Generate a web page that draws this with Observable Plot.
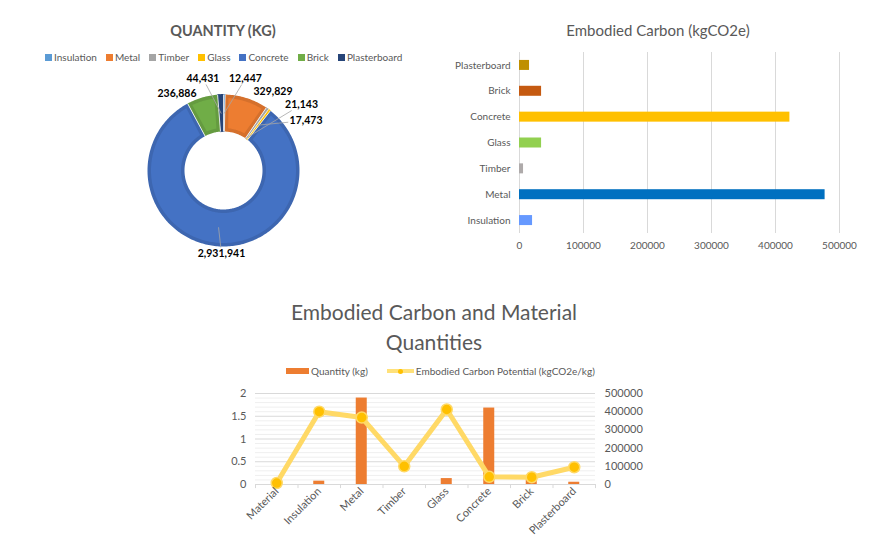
<!DOCTYPE html>
<html><head><meta charset="utf-8">
<script src="https://cdn.jsdelivr.net/npm/d3@7"></script>
<script src="https://cdn.jsdelivr.net/npm/@observablehq/plot@0.6"></script>
<style>
body{margin:0;background:#fff;font-family:Lato,"Liberation Sans",sans-serif;}
#page{position:relative;width:892px;height:552px;overflow:hidden;background:#fff;}
.abs{position:absolute;}
.title{color:#595959;text-align:center;white-space:nowrap;}
.legend{display:flex;align-items:center;font-size:10px;color:#595959;white-space:nowrap;line-height:12px;}
.item{display:flex;align-items:center;}
.sw{display:inline-block;width:7px;height:7px;margin-right:2px;}
</style></head><body><div id="page">
<div class="abs title" style="left:123px;top:22px;width:200px;font-size:14.5px;font-weight:bold;line-height:18px;">QUANTITY (KG)</div>
<div class="abs legend" id="leg1" style="left:45px;top:51px;"></div>
<div class="abs title" style="left:508px;top:21px;width:300px;font-size:15px;line-height:18px;">Embodied Carbon (kgCO2e)</div>
<div class="abs title" style="left:234px;top:297px;width:400px;font-size:21px;line-height:30px;">Embodied Carbon and Material<br>Quantities</div>
<div class="abs legend" id="leg3" style="left:286px;top:365px;"></div>
<div id="c1" class="abs" style="left:73px;top:70px;"></div>
<div id="c2" class="abs" style="left:440px;top:40px;"></div>
<div id="c3" class="abs" style="left:200px;top:385px;"></div>
</div>
<script>
// ---------- Data ----------
const materials = ["Insulation","Metal","Timber","Glass","Concrete","Brick","Plasterboard"];
const quantityKg = [12447, 329829, 21143, 17473, 2931941, 236886, 44431];
const pieColors = ["#5B9BD5","#ED7D31","#A5A5A5","#FFC000","#4472C4","#70AD47","#264478"];

const carbonCategories = ["Insulation","Metal","Timber","Glass","Concrete","Brick","Plasterboard"];
const embodiedCarbon = [20400, 477500, 6300, 34500, 422500, 34500, 15700];
const carbonColors = ["#6699FF","#0070C0","#AEAAAA","#92D050","#FFC000","#C55A11","#BF9000"];
const carbonTicks = [0, 100000, 200000, 300000, 400000, 500000];

const comboCategories = ["Material","Insulation","Metal","Timber","Glass","Concrete","Brick","Plasterboard"];
const quantityBars = [0, 0.073, 1.9, 0, 0.13, 1.68, 0.14, 0.05];
const carbonPotential = [8000, 400000, 368000, 100000, 412000, 42000, 40000, 95000];
const leftTicks = [0, 0.5, 1, 1.5, 2];
const rightTicks = [0, 100000, 200000, 300000, 400000, 500000];

// ---------- Layout (not data) ----------
// label placement in polar form: [angle deg clockwise from top, radius px, leader start radius or null]
const labelPolar = [[13.4,94.6,57],[32.1,93.2,null],[49.8,102.2,40],[58.8,96.5,57],[181.4,83,57],[-31.1,90,null],[-12.6,94.3,57]];
const FONT = "Lato, 'Liberation Sans', sans-serif";

// ---------- Legends ----------
const leg1 = document.getElementById("leg1");
materials.forEach((m,i)=>{
  const it = document.createElement("div"); it.className="item"; it.style.marginRight = "9px";
  it.innerHTML = `<span class="sw" style="background:${pieColors[i]}"></span>${m}`;
  leg1.appendChild(it);
});
const leg3 = document.getElementById("leg3");
leg3.innerHTML = `<div class="item" style="margin-right:19px"><span style="display:inline-block;width:23px;height:6px;background:#ED7D31;margin-right:2px"></span>Quantity (kg)</div>
<div class="item"><span style="position:relative;display:inline-block;width:27px;height:4px;background:#FFE17A;margin-right:2px"><span style="position:absolute;left:11px;top:-0.5px;width:5px;height:5px;border-radius:50%;background:#FFC000"></span></span>Embodied Carbon Potential (kgCO2e/kg)</div>`;

// ---------- Donut ----------
{
  const total = d3.sum(quantityKg);
  const R_OUT = 76, R_IN = 39, B = 3.5;
  let acc = 0;
  const slices = materials.map((name,i)=>{const a0 = acc/total*2*Math.PI; acc += quantityKg[i]; return {name,i,a0,a1:acc/total*2*Math.PI};});
  const pt = (a,r)=>({x:r*Math.sin(a), y:-r*Math.cos(a)});
  function ringPoly(a0,a1,r0,r1,inset){
    const pts=[]; const n=Math.max(2,Math.ceil((a1-a0)/0.02));
    const o0=a0+inset/r1, o1=a1-inset/r1, i0=a0+inset/r0, i1=a1-inset/r0;
    for(let k=0;k<=n;k++) pts.push(pt(o0+(o1-o0)*k/n, r1-inset));
    for(let k=n;k>=0;k--) pts.push(pt(i0+(i1-i0)*k/n, r0+inset));
    return pts;
  }
  const marks = [];
  slices.forEach(s=>{
    const col = pieColors[s.i];
    const big = (s.a1-s.a0)*57 > 10;
    if(big){
      marks.push(Plot.line(ringPoly(s.a0,s.a1,R_IN,R_OUT,0),{x:"x",y:"y",fill:d3.color(col).darker(0.3).formatHex(),stroke:"none"}));
      marks.push(Plot.line(ringPoly(s.a0,s.a1,R_IN,R_OUT,B),{x:"x",y:"y",fill:col,stroke:"none"}));
    } else {
      marks.push(Plot.line(ringPoly(s.a0,s.a1,R_IN,R_OUT,0),{x:"x",y:"y",fill:col,stroke:col,strokeWidth:1}));
    }
  });
  marks.push(Plot.link(slices,{x1:s=>pt(s.a0,R_IN).x,y1:s=>pt(s.a0,R_IN).y,x2:s=>pt(s.a0,R_OUT).x,y2:s=>pt(s.a0,R_OUT).y,stroke:"#ffffff",strokeWidth:0.8}));
  const labels = materials.map((name,i)=>{
    const [deg,r,rs] = labelPolar[i]; const a = deg*Math.PI/180;
    const text = d3.format(",")(quantityKg[i]);
    const c = {x:r*Math.sin(a), y:-r*Math.cos(a)};
    let leader = null;
    if(rs!=null){
      const mid=(slices[i].a0+slices[i].a1)/2; const S=pt(mid,rs);
      const dx=S.x-c.x, dy=S.y-c.y; const hw=text.length*2.8+1, hh=6;
      const t=Math.min(dx?hw/Math.abs(dx):1e9, dy?hh/Math.abs(dy):1e9);
      leader={x1:S.x,y1:S.y,x2:c.x+t*dx,y2:c.y+t*dy};
    }
    return {...c,text,leader};
  });
  marks.push(Plot.link(labels.filter(d=>d.leader),{x1:d=>d.leader.x1,y1:d=>d.leader.y1,x2:d=>d.leader.x2,y2:d=>d.leader.y2,stroke:"#A6A6A6",strokeWidth:0.8}));
  marks.push(Plot.text(labels,{x:"x",y:"y",text:"text",fontSize:10.5,fontWeight:"bold",fill:"#000000"}));
  const chart = Plot.plot({width:300,height:200,margin:0,
    style:{fontFamily:FONT,background:"transparent",overflow:"visible"},
    x:{domain:[-150,150],range:[0,300],axis:null},
    y:{domain:[-100,100],range:[0,200],axis:null},
    marks});
  document.getElementById("c1").appendChild(chart);
}

// ---------- Horizontal bars ----------
{
  const W=430,H=225,ml=79,mr=31,mt=12,mb=32;
  const barData = carbonCategories.map((c,i)=>({c,v:embodiedCarbon[i],col:carbonColors[i]}));
  const step=(H-mt-mb)/carbonCategories.length; const ins=(step-10)/2;
  const chart = Plot.plot({width:W,height:H,marginLeft:ml,marginRight:mr,marginTop:mt,marginBottom:mb,
    style:{fontFamily:FONT,fontSize:"10px",color:"#595959",background:"transparent"},
    x:{domain:[0,500000]},
    y:{domain:carbonCategories.slice().reverse(),padding:0,round:false},
    color:{type:"identity"},
    marks:[
      Plot.ruleX(carbonTicks,{stroke:"#D9D9D9",strokeWidth:1}),
      Plot.barX(barData,{x:"v",y:"c",fill:"col",insetTop:ins,insetBottom:ins}),
      Plot.axisX(carbonTicks,{tickSize:0,tickPadding:8,tickFormat:d=>String(d),label:null,fill:"#595959"}),
      Plot.axisY({tickSize:0,tickPadding:9,label:null,fill:"#595959"})
    ]});
  document.getElementById("c2").appendChild(chart);
}

// ---------- Combo chart ----------
{
  const W=460,H=165,ml=55,mr=65,mt=8,mb=66;
  const ratio = 500000/2;
  const combo = comboCategories.map((c,i)=>({c,q:quantityBars[i],p:carbonPotential[i]}));
  const step=(W-ml-mr)/comboCategories.length; const ins=(step-11)/2;
  const minor = d3.range(0,2.0001,0.1).filter(v=>Math.abs(v*2-Math.round(v*2))>1e-6);
  const chart = Plot.plot({width:W,height:H,marginLeft:ml,marginRight:mr,marginTop:mt,marginBottom:mb,
    style:{fontFamily:FONT,fontSize:"11px",color:"#595959",background:"transparent",overflow:"visible"},
    x:{domain:comboCategories,padding:0,round:false},
    y:{domain:[0,2]},
    marks:[
      Plot.ruleY(minor,{stroke:"#EFEFEF"}),
      Plot.ruleY(leftTicks,{stroke:"#D9D9D9"}),
      Plot.barY(combo,{x:"c",y:"q",fill:"#ED7D31",insetLeft:ins,insetRight:ins}),
      Plot.ruleX(comboCategories,{x:d=>d,dx:-step/2,y1:0,y2:-0.09,stroke:"#D9D9D9"}),
      Plot.ruleX(comboCategories.slice(-1),{x:d=>d,dx:step/2,y1:0,y2:-0.09,stroke:"#D9D9D9"}),
      Plot.line(combo,{x:"c",y:d=>d.p/ratio,stroke:"#FFD966",strokeWidth:5}),
      Plot.dot(combo,{x:"c",y:d=>d.p/ratio,r:5.5,fill:"#FFC000",stroke:"#FFD966",strokeWidth:1.5}),
      Plot.axisY(leftTicks,{anchor:"left",tickSize:0,tickPadding:9,tickFormat:d=>String(d),label:null,fill:"#595959"}),
      Plot.axisY(rightTicks.map(v=>v/ratio),{anchor:"right",tickSize:0,tickPadding:9,tickFormat:d=>String(Math.round(d*ratio)),label:null,fill:"#595959"}),
      Plot.axisX({tickRotate:-45,tickSize:0,tickPadding:5,label:null,fill:"#595959"})
    ]});
  document.getElementById("c3").appendChild(chart);
}
</script>
</body></html>
